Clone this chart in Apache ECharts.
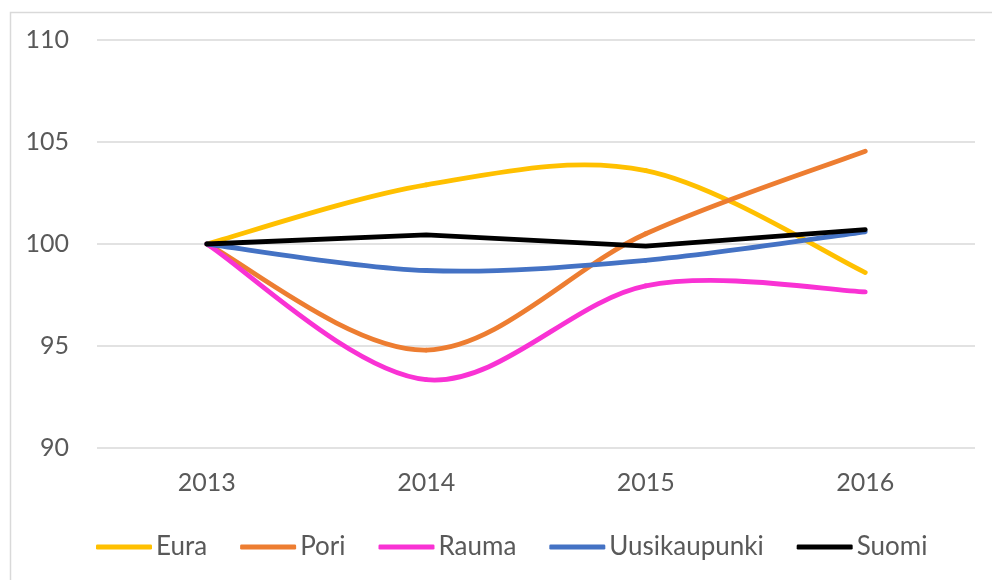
<!DOCTYPE html>
<html>
<head>
<meta charset="utf-8">
<script src="https://cdn.jsdelivr.net/npm/echarts@6/dist/echarts.min.js"></script>
<style>
  html, body { margin: 0; padding: 0; background: #fff; }
  #chart { width: 992px; height: 580px; }
</style>
</head>
<body>
<div id="chart"></div>
<script>
// vuodet
const years = ['2013', '2014', '2015', '2016']
// indeksi, 2013 = 100
const eura = [100, 102.9, 103.6, 98.6]
const pori = [100, 94.8, 100.5, 104.55]
const rauma = [100, 93.35, 97.95, 97.65]
const uusikaupunki = [100, 98.7, 99.2, 100.6]
const suomi = [100, 100.45, 99.9, 100.7]

const font = 'Lato'
const chart = echarts.init(document.getElementById('chart'))

// Excel-tyylinen pehmennys (Catmull-Rom) — echartsin oma smooth ei ylitä pisteitä
function smoothLine(name, values, color) {
  return {
    name: name,
    type: 'custom',
    data: values.map((v, i) => [i, v]),
    itemStyle: { color: color },
    renderItem: function(params, api) {
      const i = params.dataIndex
      const n = values.length
      if (i >= n - 1) return null
      const pt = j => {
        const k = Math.max(0, Math.min(n - 1, j))
        return api.coord([k, values[k]])
      }
      const p0 = pt(i - 1)
      const p1 = pt(i)
      const p2 = pt(i + 1)
      const p3 = pt(i + 2)
      return {
        type: 'bezierCurve',
        shape: {
          x1: p1[0], y1: p1[1],
          x2: p2[0], y2: p2[1],
          cpx1: p1[0] + (p2[0] - p0[0]) / 6,
          cpy1: p1[1] + (p2[1] - p0[1]) / 6,
          cpx2: p2[0] - (p3[0] - p1[0]) / 6,
          cpy2: p2[1] - (p3[1] - p1[1]) / 6
        },
        style: { fill: 'none', stroke: color, lineWidth: 4.8, lineCap: 'round' }
      }
    }
  }
}

chart.setOption({
  animation: false,
  graphic: [{
    type: 'rect',
    left: 8,
    top: 10,
    shape: { width: 1000, height: 600 },
    style: { fill: 'none', stroke: '#d9d9d9', lineWidth: 1.5 },
    silent: true
  }],
  grid: { left: 97, right: 17, top: 40, bottom: 132 },
  xAxis: {
    type: 'category',
    data: years,
    boundaryGap: true,
    axisLine: { show: false },
    axisTick: { show: false },
    axisLabel: { color: '#595959', fontFamily: font, fontSize: 25, margin: 22 }
  },
  yAxis: {
    type: 'value',
    min: 90,
    max: 110,
    interval: 5,
    axisLine: { show: false },
    axisTick: { show: false },
    splitLine: { lineStyle: { color: '#d9d9d9', width: 1.5 } },
    axisLabel: { color: '#595959', fontFamily: font, fontSize: 25, margin: 28 }
  },
  legend: {
    bottom: 15,
    left: 91,
    itemWidth: 56,
    itemHeight: 5,
    itemGap: 33,
    icon: 'roundRect',
    textStyle: { color: '#595959', fontFamily: font, fontSize: 26, padding: [0, 0, 0, -1] },
    data: [
      { name: 'Eura', itemStyle: { color: '#FFC000' } },
      { name: 'Pori', itemStyle: { color: '#ED7D31' } },
      { name: 'Rauma', itemStyle: { color: '#F932D4' } },
      { name: 'Uusikaupunki', itemStyle: { color: '#4472C4' } },
      { name: 'Suomi', itemStyle: { color: '#000000' } }
    ]
  },
  series: [
    smoothLine('Eura', eura, '#FFC000'),
    smoothLine('Pori', pori, '#ED7D31'),
    smoothLine('Rauma', rauma, '#F932D4'),
    smoothLine('Uusikaupunki', uusikaupunki, '#4472C4'),
    {
      name: 'Suomi',
      type: 'line',
      data: suomi,
      symbol: 'none',
      lineStyle: { color: '#000000', width: 4.8, cap: 'round', join: 'round' },
      itemStyle: { color: '#000000' }
    }
  ]
})
</script>
</body>
</html>
